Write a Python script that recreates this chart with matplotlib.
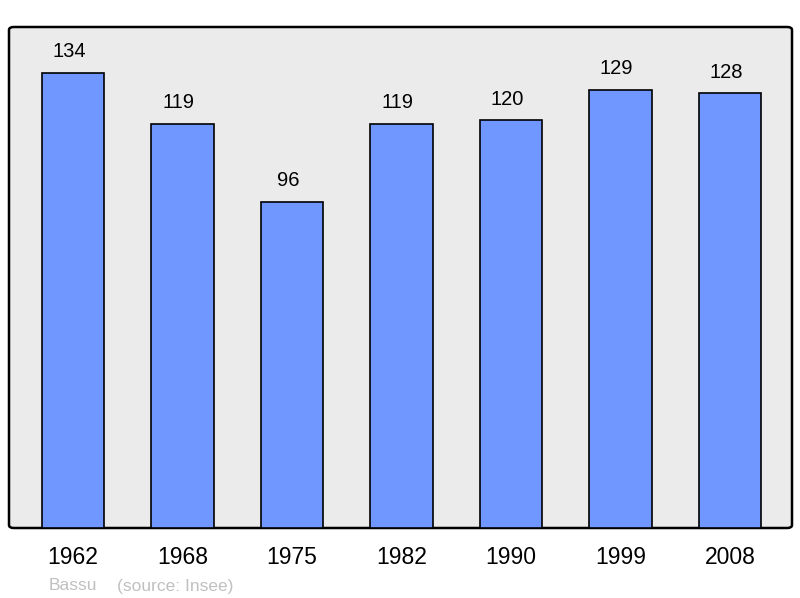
import matplotlib
matplotlib.use("Agg")
import matplotlib.pyplot as plt
from matplotlib.patches import FancyBboxPatch

years = ["1962", "1968", "1975", "1982", "1990", "1999", "2008"]
population = [134, 119, 96, 119, 120, 129, 128]

plt.rcParams['font.family'] = ['Liberation Sans', 'DejaVu Sans']

fig = plt.figure(figsize=(8, 5.98), dpi=100)
ax = fig.add_axes([9/800, 1-528/598, (792-9)/800, (528-27)/598])
ax.set_xlim(-0.585, 6.565)
ax.set_ylim(0, 147.5)
ax.axis('off')

# rounded background frame
frame = FancyBboxPatch((0, 0), 1, 1, boxstyle="round,pad=0,rounding_size=0.006",
                       transform=ax.transAxes, facecolor="#ebebeb", edgecolor="black",
                       linewidth=1.8, zorder=0, clip_on=False)
ax.add_patch(frame)

x = list(range(len(years)))
ax.bar(x, population, width=0.57, color="#7096ff", edgecolor="black", linewidth=1.2, zorder=2)

for xi, v in zip(x, population):
    ax.annotate(str(v), (xi, v), xytext=(-4, 21), textcoords="offset pixels",
                ha="center", va="center", fontsize=14.5, color="black")

for xi, y in zip(x, years):
    ax.annotate(y, (xi, 0), xytext=(0, -29), textcoords="offset pixels",
                ha="center", va="center", fontsize=16.5, color="black", annotation_clip=False)

fig.text(49/800, 1-586/598, "Bassu", fontsize=12.5, color="#c0c0c0", va="center", ha="left")
fig.text(117/800, 1-586/598, "(source: Insee)", fontsize=12.5, color="#c0c0c0", va="center", ha="left")

fig.savefig("out.png", dpi=100)
